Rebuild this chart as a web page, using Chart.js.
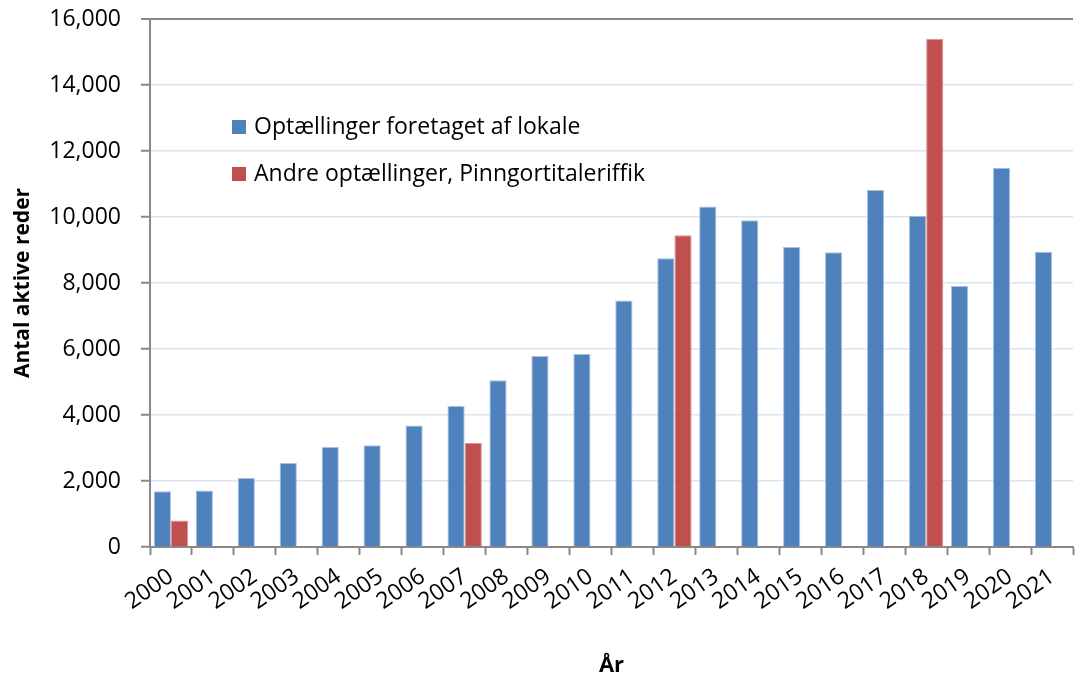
<!DOCTYPE html>
<html>
<head>
<meta charset="utf-8">
<script src="https://cdn.jsdelivr.net/npm/chart.js@4/dist/chart.umd.min.js"></script>
<style>
  html, body { margin: 0; padding: 0; background: #fff; }
  #wrap { width: 1083px; height: 679px; position: relative; }
</style>
</head>
<body>
<div id="wrap"><canvas id="c"></canvas></div>
<script>
// ── Data ────────────────────────────────────────────────────────
const years = ['2000','2001','2002','2003','2004','2005','2006','2007','2008','2009','2010',
               '2011','2012','2013','2014','2015','2016','2017','2018','2019','2020','2021'];
const localCounts = [1690, 1710, 2090, 2545, 3030, 3080, 3680, 4270, 5050, 5790, 5850,
                     7470, 8750, 10320, 9900, 9090, 8930, 10820, 10040, 7910, 11490, 8950];
const otherCounts = [800, null, null, null, null, null, null, 3150, null, null, null,
                     null, 9450, null, null, null, null, null, 15400, null, null, null];
const seriesNames = ['Optællinger foretaget af lokale', 'Andre optællinger, Pinngortitaleriffik'];
const yTicks = [0, 2000, 4000, 6000, 8000, 10000, 12000, 14000, 16000];

const FONT = "'Open Sans', 'DejaVu Sans', sans-serif";
const BLUE = '#4f81bd';
const RED = '#c0504d';

// legend drawn inside the plot area, Excel style
const insideLegend = {
    id: 'insideLegend',
    afterDraw(chart) {
        const ctx = chart.ctx;
        const left = chart.chartArea.left + 82;
        const rows = [127, 174];
        ctx.save();
        ctx.font = '23px ' + FONT;
        ctx.textBaseline = 'middle';
        chart.data.datasets.forEach((ds, i) => {
            ctx.fillStyle = ds.backgroundColor;
            ctx.fillRect(left, rows[i] - 7, 14, 14);
            ctx.fillStyle = '#000';
            ctx.fillText(ds.label, left + 22, rows[i]);
        });
        ctx.restore();
    }
};

new Chart(document.getElementById('c'), {
    type: 'bar',
    data: {
        labels: years,
        datasets: [
            { label: seriesNames[0], data: localCounts, backgroundColor: BLUE,
              borderColor: '#a9c0de', borderWidth: { top: 1, left: 1, right: 1, bottom: 0 } },
            { label: seriesNames[1], data: otherCounts, backgroundColor: RED,
              borderColor: '#d99694', borderWidth: { top: 1, left: 1, right: 1, bottom: 0 } }
        ]
    },
    options: {
        responsive: true,
        maintainAspectRatio: false,
        animation: false,
        layout: { padding: { top: 19, right: 10, left: 0, bottom: 0 } },
        categoryPercentage: 0.82,
        barPercentage: 1.0,
        plugins: {
            legend: { display: false },
            tooltip: { enabled: false }
        },
        scales: {
            x: {
                offset: true,
                grid: { offset: true, drawOnChartArea: false, tickLength: 8, tickColor: '#898989', tickWidth: 2 },
                border: { color: '#898989', width: 2 },
                ticks: {
                    color: '#000',
                    font: { family: FONT, size: 23 },
                    minRotation: 35, maxRotation: 35,
                    autoSkip: false, padding: 8
                },
                title: {
                    display: true, text: 'År', color: '#000',
                    font: { family: FONT, size: 22, weight: 'bold' },
                    padding: { top: 0, bottom: 0 }
                },
                afterFit: s => { s.height = 132; s.paddingLeft = 0; s.paddingRight = 0; }
            },
            y: {
                min: 0, max: 16000,
                afterBuildTicks: s => { s.ticks = yTicks.map(v => ({ value: v })); },
                grid: {
                    color: c => c.tick && c.tick.value === 16000 ? '#898989' : '#dce6f2',
                    lineWidth: c => c.tick && c.tick.value === 16000 ? 2 : 1.5,
                    tickLength: 9, tickColor: '#898989', tickWidth: 2
                },
                border: { color: '#898989', width: 2 },
                ticks: {
                    color: '#000',
                    font: { family: FONT, size: 23 },
                    padding: 20,
                    callback: v => v.toLocaleString('en-US')
                },
                title: {
                    display: true, text: 'Antal aktive reder', color: '#000',
                    font: { family: FONT, size: 21, weight: 'bold' },
                    padding: { top: 10, bottom: 4 }
                },
                afterFit: s => { s.width = 150; s.paddingTop = 0; s.paddingBottom = 0; }
            }
        }
    },
    plugins: [insideLegend]
});
</script>
</body>
</html>
